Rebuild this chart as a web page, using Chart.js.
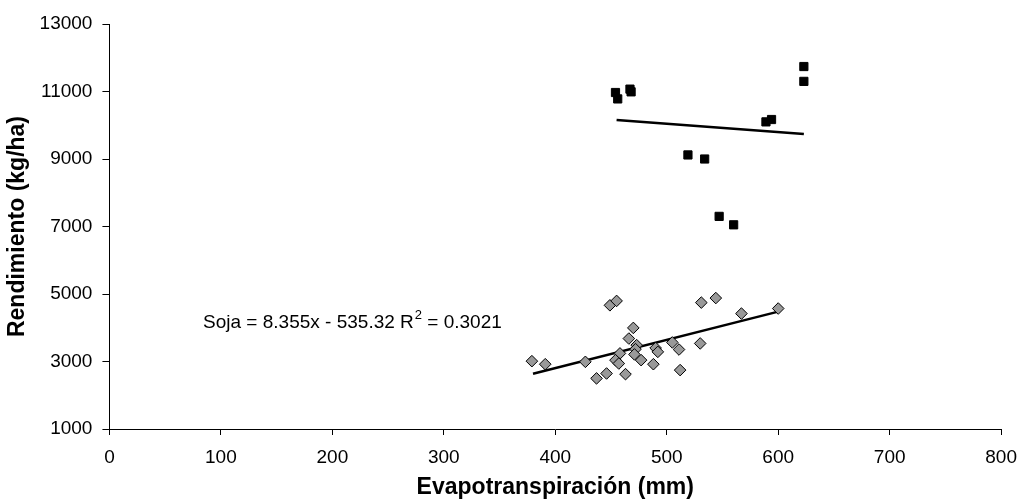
<!DOCTYPE html>
<html>
<head>
<meta charset="utf-8">
<script src="https://cdn.jsdelivr.net/npm/chart.js@4/dist/chart.umd.min.js"></script>
<style>
  html, body { margin: 0; padding: 0; background: #fff; }
  #wrap { width: 1019px; height: 499px; }
</style>
</head>
<body>
<div id="wrap"><canvas id="chart"></canvas></div>
<script>
// ========== DATA ==========
const maizeX = [454, 456, 467, 468, 519, 534, 547, 560, 589, 594, 623, 623];
const maizeY = [10970, 10780, 11070, 10990, 9120, 9000, 7300, 7050, 10100, 10170, 11740, 11300];

const sojaX = [379, 391, 427, 449, 455, 470, 466, 473, 472, 458,
               454, 457, 471, 477, 488, 490, 446, 437, 463, 492,
               531, 544, 567, 600, 530, 505, 511, 512];
const sojaY = [3010, 2920, 2990, 4665, 4795, 3995, 3680, 3485, 3365, 3240,
               3040, 2940, 3210, 3040, 2920, 3400, 2645, 2500, 2625, 3285,
               4745, 4880, 4420, 4570, 3535, 3565, 3355, 2745];

// trend lines: [slope, intercept] and x range
const sojaCoef = [8.355, -535.32];
const sojaRange = [380, 600];
const maizeCoef = [-2.47, 11280];
const maizeRange = [455, 623];

const xTicks = [0, 100, 200, 300, 400, 500, 600, 700, 800];
const yTicks = [1000, 3000, 5000, 7000, 9000, 11000, 13000];

const equationText = 'Soja = 8.355x - 535.32 R';
const r2Text = ' = 0.3021';
const equationAt = [84, 4150];

// ========== HELPERS ==========
function toPoints(xs, ys) {
  return xs.map((x, i) => ({ x: x, y: ys[i] }));
}

function trendPoints(coef, range) {
  return range.map(x => ({ x: x, y: coef[0] * x + coef[1] }));
}

const FONT = "'Liberation Sans', Arial, sans-serif";

// draws the regression equation with superscript 2
const equationPlugin = {
  id: 'equation',
  afterDatasetsDraw(chart) {
    const ctx = chart.ctx;
    const px = chart.scales.x.getPixelForValue(equationAt[0]);
    const py = chart.scales.y.getPixelForValue(equationAt[1]);
    ctx.save();
    ctx.fillStyle = '#000';
    ctx.textBaseline = 'middle';
    ctx.font = '19px ' + FONT;
    ctx.fillText(equationText, px, py);
    let w = ctx.measureText(equationText).width;
    ctx.font = '13px ' + FONT;
    ctx.fillText('2', px + w + 1, py - 7);
    w += ctx.measureText('2').width + 1;
    ctx.font = '19px ' + FONT;
    ctx.fillText(r2Text, px + w, py);
    ctx.restore();
  }
};

// ========== CHART ==========
new Chart(document.getElementById('chart'), {
  type: 'scatter',
  data: {
    datasets: [
      {
        label: 'Maíz',
        data: toPoints(maizeX, maizeY),
        pointStyle: 'rect',
        pointRadius: 5.8,
        backgroundColor: '#000',
        borderColor: '#000',
        borderWidth: 1
      },
      {
        label: 'Soja',
        data: toPoints(sojaX, sojaY),
        pointStyle: 'rectRot',
        pointRadius: 5.8,
        backgroundColor: '#999999',
        borderColor: '#000',
        borderWidth: 1
      },
      {
        label: 'Tendencia maíz',
        data: trendPoints(maizeCoef, maizeRange),
        showLine: true,
        pointRadius: 0,
        borderColor: '#000',
        borderWidth: 2.5
      },
      {
        label: 'Tendencia soja',
        data: trendPoints(sojaCoef, sojaRange),
        showLine: true,
        pointRadius: 0,
        borderColor: '#000',
        borderWidth: 2.5
      }
    ]
  },
  options: {
    responsive: true,
    maintainAspectRatio: false,
    animation: false,
    layout: { padding: { top: 24, right: 0, left: 0, bottom: 0 } },
    plugins: {
      legend: { display: false },
      tooltip: { enabled: false }
    },
    scales: {
      x: {
        type: 'linear',
        min: 0,
        max: 800,
        afterBuildTicks: axis => { axis.ticks = xTicks.map(v => ({ value: v })); },
        grid: { drawOnChartArea: false, drawTicks: true, tickLength: 6, color: '#000' },
        border: { display: true, color: '#000', width: 1 },
        ticks: {
          color: '#000', padding: 2, maxRotation: 0,
          callback: v => String(v),
          font: { family: FONT, size: 19, lineHeight: 42 / 19 }
        },
        title: {
          display: true,
          text: 'Evapotranspiración (mm)',
          color: '#000',
          padding: { top: -5, bottom: 0 },
          font: { family: FONT, size: 23, weight: 'bold', lineHeight: 1 }
        }
      },
      y: {
        type: 'linear',
        min: 1000,
        max: 13000,
        afterBuildTicks: axis => { axis.ticks = yTicks.map(v => ({ value: v })); },
        grid: { drawOnChartArea: false, drawTicks: true, tickLength: 7, color: '#000' },
        border: { display: true, color: '#000', width: 1 },
        ticks: {
          color: '#000', padding: 10,
          callback: v => String(v),
          font: { family: FONT, size: 19 }
        },
        title: {
          display: true,
          text: 'Rendimiento (kg/ha)',
          color: '#000',
          padding: { top: 4, bottom: -2 },
          font: { family: FONT, size: 23, weight: 'bold', lineHeight: 1.2 }
        }
      }
    }
  },
  plugins: [equationPlugin]
});
</script>
</body>
</html>
